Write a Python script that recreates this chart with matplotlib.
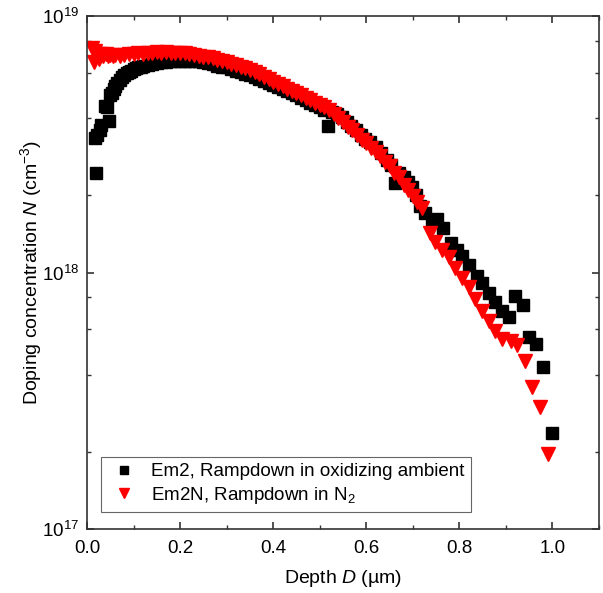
import numpy as np
import matplotlib
matplotlib.use('Agg')
import matplotlib.pyplot as plt
from matplotlib.ticker import LogLocator, MultipleLocator, NullFormatter

plt.rcParams['font.family'] = ['Liberation Sans', 'DejaVu Sans']
plt.rcParams['mathtext.fontset'] = 'custom'
plt.rcParams['mathtext.rm'] = 'Liberation Sans'
plt.rcParams['mathtext.it'] = 'Liberation Sans:italic'

# Em2 : rampdown in oxidizing ambient (depth in um, N in 1e18 cm^-3)
em2_depth = [0.020, 0.018, 0.022, 0.027, 0.031, 0.038, 0.042, 0.047, 0.050, 0.053,
             0.057, 0.061, 0.065, 0.070, 0.075, 0.080, 0.085, 0.090, 0.095, 0.100,
             0.105, 0.110, 0.115, 0.120, 0.130, 0.140, 0.150, 0.160, 0.170, 0.180,
             0.190, 0.200, 0.210, 0.220, 0.230, 0.240, 0.250, 0.260, 0.270, 0.280,
             0.290, 0.300, 0.310, 0.320, 0.330, 0.340, 0.350, 0.360, 0.370, 0.380,
             0.390, 0.400, 0.410, 0.420, 0.430, 0.440, 0.450, 0.460, 0.470, 0.480,
             0.490, 0.500, 0.510, 0.518, 0.527, 0.537, 0.547, 0.558, 0.568, 0.578,
             0.588, 0.598, 0.609, 0.620, 0.632, 0.644, 0.654, 0.662, 0.670, 0.680,
             0.689, 0.698, 0.707, 0.716, 0.727, 0.741, 0.752, 0.765, 0.781, 0.795,
             0.806, 0.820, 0.837, 0.849, 0.863, 0.877, 0.892, 0.906, 0.920, 0.936,
             0.949, 0.965, 0.980, 0.999]
em2_N = [2.44, 3.35, 3.45, 3.60, 3.75, 4.45, 4.40, 3.90, 4.90, 5.00,
         5.20, 5.35, 5.50, 5.65, 5.80, 5.90, 6.00, 6.05, 6.10, 6.20,
         6.25, 6.30, 6.35, 6.40, 6.45, 6.50, 6.55, 6.60, 6.60, 6.65,
         6.70, 6.70, 6.70, 6.70, 6.65, 6.65, 6.60, 6.55, 6.50, 6.40,
         6.35, 6.30, 6.20, 6.10, 6.05, 5.95, 5.90, 5.80, 5.70, 5.60,
         5.50, 5.40, 5.30, 5.20, 5.10, 5.00, 4.90, 4.80, 4.70, 4.60,
         4.50, 4.40, 4.30, 3.74, 4.22, 4.15, 4.05, 3.87, 3.72, 3.58,
         3.45, 3.33, 3.22, 3.08, 2.93, 2.75, 2.62, 2.24, 2.45, 2.36,
         2.25, 2.16, 2.00, 1.81, 1.71, 1.60, 1.61, 1.49, 1.30, 1.22,
         1.16, 1.07, 0.97, 0.91, 0.83, 0.77, 0.71, 0.67, 0.81, 0.75,
         0.56, 0.525, 0.43, 0.237]

# Em2N : rampdown in N2
em2n_depth = [0.010, 0.014, 0.018, 0.022, 0.026, 0.030, 0.035, 0.040, 0.045, 0.050,
              0.055, 0.060, 0.070, 0.080, 0.090, 0.100, 0.110, 0.120, 0.130, 0.140,
              0.150, 0.160, 0.170, 0.180, 0.190, 0.200, 0.210, 0.220, 0.230, 0.240,
              0.250, 0.260, 0.270, 0.280, 0.290, 0.300, 0.310, 0.320, 0.330, 0.340,
              0.350, 0.360, 0.370, 0.380, 0.390, 0.400, 0.410, 0.420, 0.430, 0.440,
              0.450, 0.460, 0.470, 0.480, 0.490, 0.500, 0.510, 0.520, 0.530, 0.540,
              0.550, 0.560, 0.570, 0.580, 0.590, 0.600, 0.610, 0.620, 0.630, 0.640,
              0.650, 0.660, 0.670, 0.680, 0.690, 0.700, 0.710, 0.720, 0.736, 0.748,
              0.763, 0.777, 0.791, 0.806, 0.820, 0.834, 0.849, 0.863, 0.877, 0.892,
              0.910, 0.923, 0.940, 0.955, 0.973, 0.991]
em2n_N = [7.50, 6.60, 7.30, 7.10, 6.80, 7.10, 7.00, 7.10, 7.00, 7.05,
          7.00, 7.05, 7.00, 7.05, 7.10, 7.10, 7.15, 7.10, 7.20, 7.20,
          7.25, 7.20, 7.25, 7.20, 7.20, 7.15, 7.15, 7.10, 7.05, 7.00,
          6.95, 6.90, 6.85, 6.75, 6.70, 6.60, 6.50, 6.45, 6.35, 6.25,
          6.15, 6.05, 5.95, 5.80, 5.70, 5.55, 5.45, 5.35, 5.20, 5.10,
          5.00, 4.90, 4.80, 4.70, 4.60, 4.50, 4.40, 4.30, 4.15, 4.00,
          3.85, 3.70, 3.60, 3.45, 3.30, 3.20, 3.05, 2.95, 2.85, 2.70,
          2.60, 2.45, 2.35, 2.20, 2.10, 1.98, 1.88, 1.78, 1.43, 1.32,
          1.22, 1.15, 1.04, 0.95, 0.88, 0.79, 0.71, 0.65, 0.59, 0.55,
          0.54, 0.52, 0.45, 0.357, 0.298, 0.196]

em2_depth = np.array(em2_depth)
em2_N = np.array(em2_N) * 1e18
em2n_depth = np.array(em2n_depth)
em2n_N = np.array(em2n_N) * 1e18

fig = plt.figure(figsize=(6.03, 5.93), dpi=100)
ax = fig.add_axes([0.1443, 0.1079, 0.8491, 0.8651])

ax.plot(em2_depth, em2_N, ls='none', marker='s', ms=8, color='black',
        label='Em2, Rampdown in oxidizing ambient')
ax.plot(em2n_depth, em2n_N, ls='none', marker='v', ms=9.5, color='red',
        label='Em2N, Rampdown in N$_2$')

ax.set_yscale('log')
ax.set_xlim(0, 1.1)
ax.set_ylim(1e17, 1e19)
ax.xaxis.set_major_locator(MultipleLocator(0.2))
ax.xaxis.set_minor_locator(MultipleLocator(0.1))
ax.yaxis.set_major_locator(LogLocator(base=10))
ax.yaxis.set_minor_locator(LogLocator(base=10, subs=[2, 4, 6, 8]))
ax.yaxis.set_minor_formatter(NullFormatter())
ax.tick_params(which='both', direction='in', top=True, right=True, labelsize=13.5,
               color='#333333')
ax.tick_params(axis='x', which='major', pad=8)
ax.tick_params(axis='y', which='major', pad=6)
ax.tick_params(which='major', length=5, width=1.2)
ax.tick_params(which='minor', length=3, width=1.0)
for s in ax.spines.values():
    s.set_color('#333333')
    s.set_linewidth(1.2)

ax.set_xlabel('Depth $\\mathit{D}$ (µm)', fontsize=14, labelpad=8)
ax.set_ylabel('Doping concentration $\\mathit{N}$ (cm$^{-3}$)', fontsize=14,
              labelpad=-2)

leg = ax.legend(loc='lower left', bbox_to_anchor=(0.02, 0.025), fontsize=13.5,
                fancybox=False, edgecolor='#666666', framealpha=1,
                handletextpad=0.5, borderpad=0.35, labelspacing=0.25,
                markerscale=0.8, handlelength=1.8, borderaxespad=0.2)
leg.get_frame().set_linewidth(0.8)

fig.savefig('out.png', dpi=100)
